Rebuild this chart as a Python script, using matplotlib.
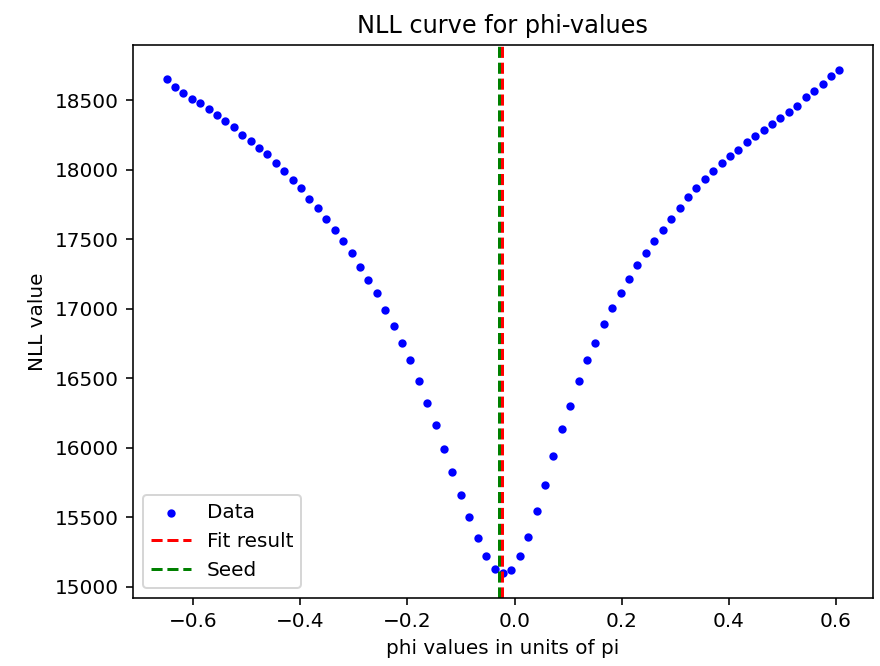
import matplotlib
matplotlib.use("Agg")
import matplotlib.pyplot as plt

# phi values (units of pi) and NLL values
phi = [-0.6500, -0.6343, -0.6186, -0.6029, -0.5872, -0.5715, -0.5558, -0.5400,
       -0.5243, -0.5086, -0.4929, -0.4772, -0.4615, -0.4458, -0.4301, -0.4144,
       -0.3987, -0.3830, -0.3673, -0.3515, -0.3358, -0.3201, -0.3044, -0.2887,
       -0.2730, -0.2573, -0.2416, -0.2259, -0.2102, -0.1945, -0.1788, -0.1631,
       -0.1473, -0.1316, -0.1159, -0.1002, -0.0845, -0.0688, -0.0531, -0.0374,
       -0.0217, -0.0060, 0.0097, 0.0254, 0.0411, 0.0569, 0.0726, 0.0883,
       0.1040, 0.1197, 0.1354, 0.1511, 0.1668, 0.1825, 0.1982, 0.2139,
       0.2296, 0.2454, 0.2611, 0.2768, 0.2925, 0.3082, 0.3239, 0.3396,
       0.3553, 0.3710, 0.3867, 0.4024, 0.4181, 0.4339, 0.4496, 0.4653,
       0.4810, 0.4967, 0.5124, 0.5281, 0.5438, 0.5595, 0.5752, 0.5909,
       0.6066]
nll = [18652, 18595, 18552, 18510, 18477, 18434, 18391, 18348,
       18305, 18252, 18208, 18155, 18110, 18048, 17993, 17929,
       17865, 17791, 17724, 17649, 17563, 17487, 17403, 17303,
       17208, 17110, 16994, 16875, 16756, 16628, 16478, 16325,
       16166, 15992, 15823, 15659, 15500, 15350, 15221, 15131,
       15100, 15121, 15221, 15359, 15543, 15735, 15940, 16132,
       16304, 16478, 16628, 16756, 16887, 17006, 17110, 17217,
       17315, 17403, 17489, 17565, 17649, 17727, 17801, 17867,
       17931, 17993, 18048, 18100, 18143, 18198, 18241, 18284,
       18327, 18372, 18412, 18457, 18522, 18564, 18619, 18672,
       18714]

fit_result = -0.0237
seed = -0.0283

fig = plt.figure(figsize=(880 / 144, 666 / 144), dpi=144)
plt.subplots_adjust(left=0.151, right=0.992, top=0.932, bottom=0.102)

plt.scatter(phi, nll, s=10, color='blue', label='Data')
plt.axvline(fit_result, color='red', linestyle='--', label='Fit result')
plt.axvline(seed, color='green', linestyle='--', label='Seed')

plt.xlabel('phi values in units of pi')
plt.ylabel('NLL value')
plt.title('NLL curve for phi-values')
plt.legend(loc='lower left')

plt.savefig('out.png', dpi=144)
